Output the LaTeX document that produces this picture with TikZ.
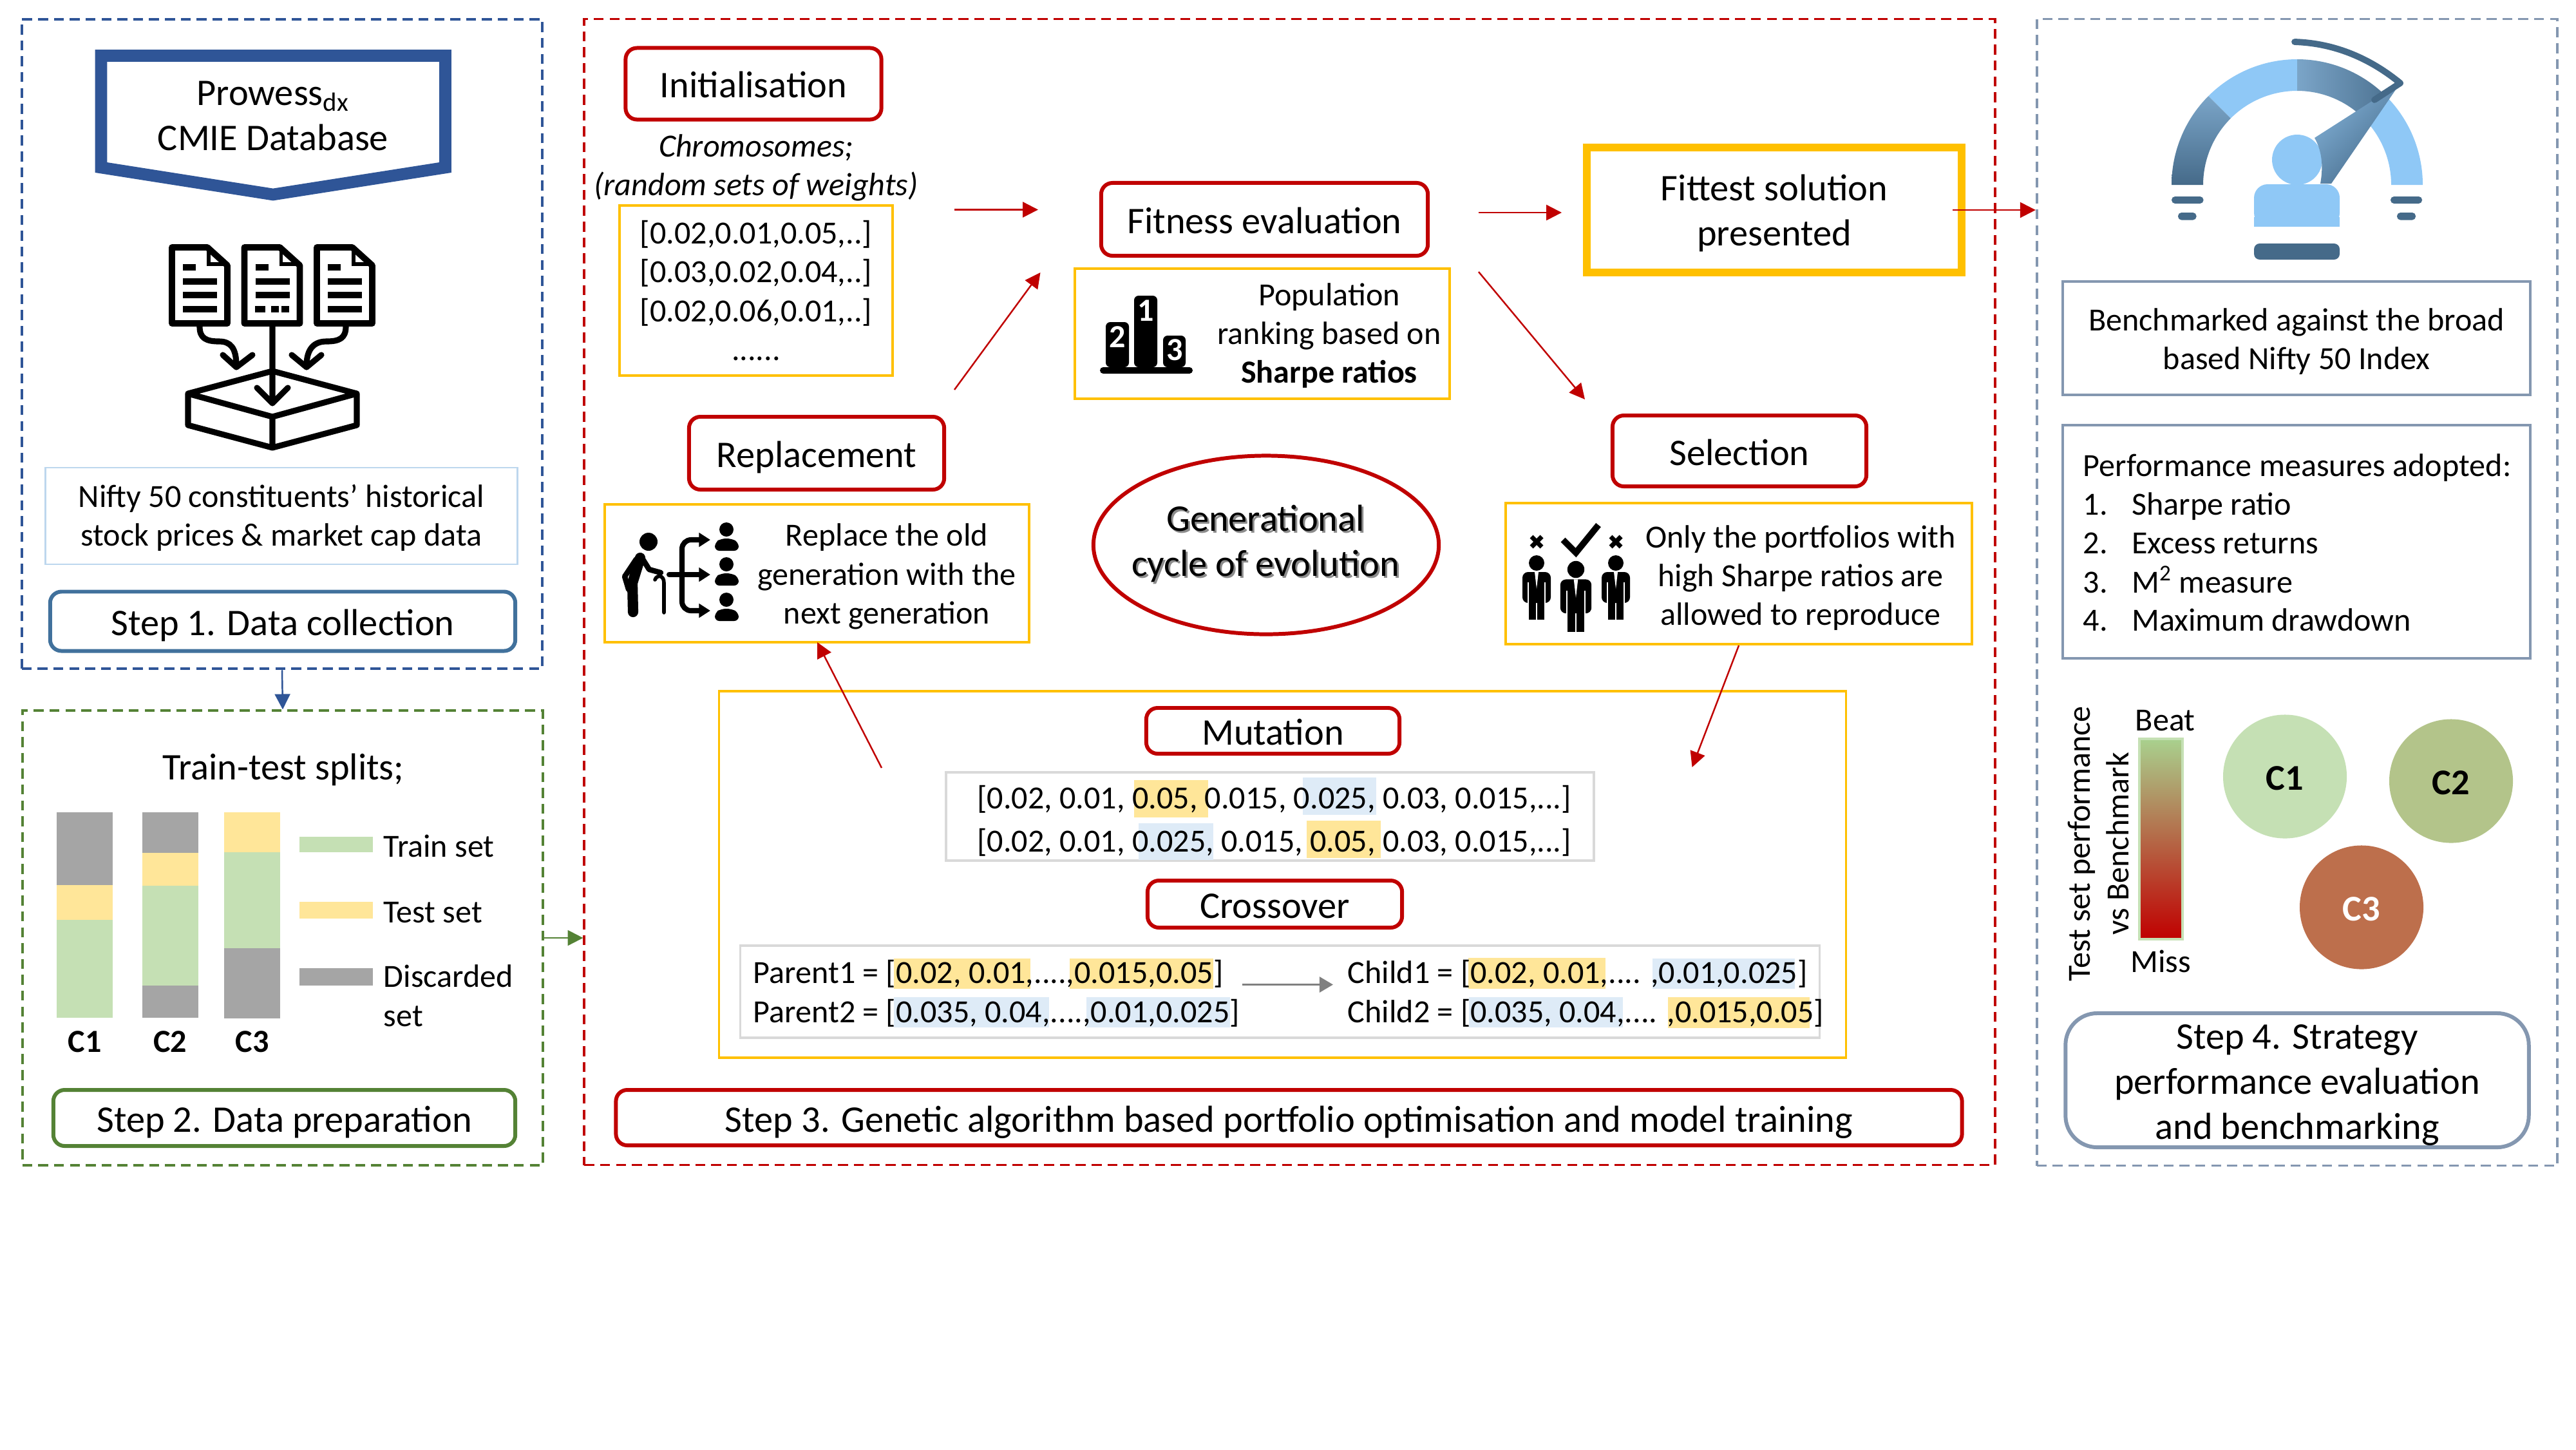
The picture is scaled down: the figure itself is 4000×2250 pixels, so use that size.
\documentclass[tikz,border=0pt]{standalone}
\usepackage{fontspec}
\setmainfont{Carlito}
\usetikzlibrary{arrows.meta,shapes.geometric}

\definecolor{stepred}{HTML}{C00000}
\definecolor{stepblue}{HTML}{2F5597}
\definecolor{steelblue}{HTML}{41719C}
\definecolor{stepgreen}{HTML}{548235}
\definecolor{slate}{HTML}{8497B0}
\definecolor{gold}{HTML}{FFC000}
\definecolor{paleblue}{HTML}{BDD7EE}
\definecolor{boxgrey}{HTML}{D9D9D9}
\definecolor{trainc}{HTML}{C5E0B4}
\definecolor{testc}{HTML}{FFE699}
\definecolor{discardc}{HTML}{A5A5A5}
\definecolor{markblue}{HTML}{DEEBF7}
\definecolor{gaugelight}{HTML}{8FC8F6}
\definecolor{gaugemid}{HTML}{7BA5C8}
\definecolor{gaugedark}{HTML}{456A89}
\definecolor{bartop}{HTML}{A9D18E}
\definecolor{barmid}{HTML}{B5936A}
\definecolor{circletwo}{HTML}{B3C48A}
\definecolor{circlethree}{HTML}{BD6F4C}

\tikzset{
  panel/.style={draw,line width=1.1pt,dash pattern=on 4.4pt off 2.6pt},
  stepbox/.style={draw,line width=1.7pt,rounded corners=5pt,align=center,inner sep=0pt,font=\fontsize{16.6}{19.8}\selectfont},
  oneline/.style={text height=15.5pt,text depth=3pt},
  goldbox/.style={draw=gold,line width=1.1pt,align=center,inner sep=0pt,font=\fontsize{14.25}{17.1}\selectfont},
  greybox/.style={draw=boxgrey,line width=1.1pt},
  slatebox/.style={draw=slate,line width=1.1pt},
  bodytext/.style={align=center,inner sep=0pt,font=\fontsize{14.25}{17.1}\selectfont},
  largetext/.style={align=center,inner sep=0pt,font=\fontsize{16.6}{19.9}\selectfont},
  legendtext/.style={anchor=base west,inner sep=0pt,font=\fontsize{14.25}{17}\selectfont},
  boldlabel/.style={inner sep=0pt,font=\fontsize{14.25}{17}\selectfont\bfseries},
  circlelabel/.style={circle,minimum size=1.92cm,inner sep=0pt,font=\fontsize{16}{19}\selectfont\bfseries},
  flowarrow/.style={draw=stepred,line width=0.7pt,-{Triangle[length=6.8pt,width=6.8pt]}},
  iconline/.style={line width=2.6pt,line cap=round,line join=round},
}

\begin{document}
\begin{tikzpicture}[x=0.01cm,y=-0.01cm]

\useasboundingbox (0,0) rectangle (4000,2250);

% Dashed panels
\node[panel,draw=stepblue,minimum width=8.08cm,minimum height=10.08cm] (panelOne) at (438,534) {};
\node[panel,draw=stepgreen,minimum width=8.08cm,minimum height=7.05cm] (panelTwo) at (439,1456) {};
\node[panel,draw=stepred,minimum width=21.89cm,minimum height=17.78cm] (panelThree) at (2002.5,919) {};
\node[panel,draw=slate,minimum width=8.08cm,minimum height=17.79cm] (panelFour) at (3567,919.5) {};

% Step 1
\draw[stepblue,line width=5.3pt,miter limit=10]
(157,86.5) -- (691.5,86.5) -- (691.5,260) -- (424,302) -- (157,260) -- cycle;
\node[largetext] (prowess) at (424,180) {Prowess\textsubscript{dx}\\CMIE Database};

% Documents
\foreach \docx in {0,112.5,225}{
\begin{scope}[xshift=\docx*0.01cm]
\draw[iconline,line width=2.8pt] (267,384) -- (322,384) -- (353,412) -- (353,502) -- (267,502) -- cycle;
\draw[line width=1.6pt] (324,384) -- (324,410) -- (352,410);
\draw[line width=2.8pt] (284,415) -- (304,415);
\draw[line width=2.8pt] (284,437) -- (337,437);
\draw[line width=2.8pt] (284,458) -- (337,458);
\end{scope}
}
\draw[line width=2.8pt] (284,480) -- (337,480);
\draw[line width=2.8pt] (509,480) -- (562,480);
\draw[line width=2.8pt] (396,480) -- (412,480) (421,480) -- (433,480) (437,480) -- (449,480);

% Tray
\draw[iconline]
(292,611) -- (423,576) -- (554,611) -- (423,647) -- cycle
(292,611) -- (292,660) -- (423,695) -- (554,660) -- (554,611)
(423,647) -- (423,695);
\draw[iconline] (423,507) -- (423,626) (399,602) -- (423,626) -- (447,602);
\draw[iconline] (310,507) .. controls (310,525) and (320,530) .. (340,530) .. controls (358,530) and (367,540) .. (367,568);
\draw[iconline] (346,551) -- (367,570) -- (392,551);
\draw[iconline] (537,507) .. controls (537,525) and (527,530) .. (507,530) .. controls (489,530) and (476,540) .. (476,568);
\draw[iconline] (453,551) -- (476,570) -- (499,551);

\node[draw=paleblue,line width=0.8pt,minimum width=7.32cm,minimum height=1.50cm] (nifty) at (437,801) {};
\node[bodytext] (niftyText) at (437,804) {Nifty 50 constituents’ historical\\stock prices \& market cap data};
\node[stepbox,oneline,draw=steelblue,minimum width=7.22cm,minimum height=0.92cm] (stepOne) at (439,964.5) {Step 1. Data collection};

% Step 2
\node[largetext] (splits) at (440,1195) {Train-test splits;};

\fill[discardc] (88,1261) rectangle (175,1374);
\fill[testc] (88,1374) rectangle (175,1428);
\fill[trainc] (88,1428) rectangle (175,1580);

\fill[discardc] (221,1261) rectangle (308,1324);
\fill[testc] (221,1324) rectangle (308,1375);
\fill[trainc] (221,1375) rectangle (308,1530);
\fill[discardc] (221,1530) rectangle (308,1580);

\fill[testc] (348,1261) rectangle (435,1323);
\fill[trainc] (348,1323) rectangle (435,1472);
\fill[discardc] (348,1472) rectangle (435,1581);

\node[boldlabel] (barOne) at (131.5,1617) {C1};
\node[boldlabel] (barTwo) at (264,1617) {C2};
\node[boldlabel] (barThree) at (391.5,1617) {C3};

\fill[trainc] (465,1299) rectangle (579,1323);
\fill[testc] (465,1400) rectangle (579,1426);
\fill[discardc] (465,1503) rectangle (579,1530);

\node[legendtext] (trainLabel) at (595,1330) {Train set};
\node[legendtext] (testLabel) at (595,1432) {Test set};
\node[legendtext] (discardLabel) at (595,1532) {Discarded};
\node[legendtext] (discardLabelTwo) at (595,1593) {set};

\node[stepbox,oneline,draw=stepgreen,minimum width=7.17cm,minimum height=0.87cm] (stepTwo) at (441.5,1735.5) {Step 2. Data preparation};

% Step 3
\node[stepbox,oneline,draw=stepred,minimum width=3.97cm,minimum height=1.11cm] (init) at (1170,130) {Initialisation};
\node[bodytext] (chromo) at (1174,260) {\itshape Chromosomes;\\\itshape (random sets of weights)};
\node[goldbox,minimum width=4.24cm,minimum height=2.64cm] (weights) at (1174,451)
{{[0.02,0.01,0.05,..]}\\{[0.03,0.02,0.04,..]}\\{[0.02,0.06,0.01,..]}\\......};

\node[stepbox,oneline,draw=stepred,minimum width=5.07cm,minimum height=1.13cm] (fitness) at (1963.5,340.5) {Fitness evaluation};
\node[goldbox,minimum width=5.82cm,minimum height=2.02cm] (population) at (1960,518) {};
\node[bodytext] (populationText) at (2064,521) {Population\\ranking based on\\\textbf{Sharpe ratios}};

% Podium
\fill[rounded corners=2pt] (1761,570) -- (1761,459) -- (1797,459) -- (1797,570) -- cycle;
\fill[rounded corners=2pt] (1717,570) -- (1717,500) -- (1753,500) -- (1753,570) -- cycle;
\fill[rounded corners=2pt] (1806,570) -- (1806,521) -- (1841,521) -- (1841,570) -- cycle;
\fill[rounded corners=1.4pt] (1708,570) rectangle (1852,580);
\node[boldlabel,text=white] (rankOne) at (1779,482) {1};
\node[boldlabel,text=white] (rankTwo) at (1735,523) {2};
\node[boldlabel,text=white] (rankThree) at (1824,543) {3};

\node[draw=gold,line width=3.4pt,minimum width=5.82cm,minimum height=1.94cm] (fittest) at (2755,326) {};
\node[largetext] (fittestText) at (2755,331) {Fittest solution\\presented};

\node[stepbox,oneline,draw=stepred,minimum width=3.96cm,minimum height=1.13cm] (replacement) at (1268,703.5) {Replacement};
\node[goldbox,minimum width=6.59cm,minimum height=2.14cm] (replaceInfo) at (1268.5,890) {};
\node[bodytext] (replaceText) at (1377,895) {Replace the old\\generation with the\\next generation};

% Old and new generation
\fill (1007,841) circle (14);
\draw[line width=4.6pt,line cap=round,line join=round] (994,866) -- (982,905) -- (983,950);
\draw[line width=2.4pt,line cap=round,line join=round] (988,868) -- (970,895) -- (976,915);
\draw[line width=2.4pt,line cap=round,line join=round] (998,868) -- (1008,884) -- (1026,889);
\draw[line width=1.6pt,line cap=round] (1017,900) .. controls (1020,892) and (1031,892) .. (1031,905) -- (1031,951);
\draw[iconline,line width=2.3pt,-{Triangle[length=5pt,width=6pt]}] (1039,892) -- (1103,892);
\draw[iconline,line width=2.3pt,rounded corners=4pt,-{Triangle[length=5pt,width=6pt]}] (1059,892) -- (1059,838) -- (1103,838);
\draw[iconline,line width=2.3pt,rounded corners=4pt,-{Triangle[length=5pt,width=6pt]}] (1059,892) -- (1059,948) -- (1103,948);
\foreach \heady in {822,876,931}{
\fill (1128,\heady) circle (11);
\fill[rounded corners=2pt] (1110,\heady+33) -- (1110,\heady+20) -- (1120,\heady+14) -- (1136,\heady+14) -- (1147,\heady+20) -- (1147,\heady+33) -- cycle;
}

\node[ellipse,draw=stepred,line width=1.7pt,minimum width=5.36cm,minimum height=2.77cm,inner sep=0pt] (cycleShape) at (1966,846) {};
\node[largetext,text=black!45] (cycleShadow) at (1968,847) {Generational\\cycle of evolution};
\node[largetext] (cycleText) at (1965,844) {Generational\\cycle of evolution};

\node[stepbox,oneline,draw=stepred,minimum width=3.94cm,minimum height=1.10cm] (selection) at (2701,700) {Selection};
\node[goldbox,minimum width=7.24cm,minimum height=2.19cm] (selectInfo) at (2700,890.5) {};
\node[bodytext] (selectText) at (2796,897) {Only the portfolios with\\high Sharpe ratios are\\allowed to reproduce};

% Portfolios
\foreach \persx/\persy/\perss in {2386/874/1,2447/884/1.1,2509/874/1}{
\begin{scope}[shift={(\persx,\persy)},scale=\perss]
\fill (0,0) circle (12);
\fill[rounded corners=2.5pt] (-22,14) rectangle (22,62);
\fill (-12,50) rectangle (-1,88);
\fill (1,50) rectangle (12,88);
\draw[white,line width=0.6pt] (-13,30) -- (-13,64) (13,30) -- (13,64);
\fill[white] (-3,14) -- (3,14) -- (0,40) -- cycle;
\end{scope}
}
\draw[line width=2.8pt] (2427,838) -- (2447,858) -- (2482,815);
\draw[line width=2pt] (2378,833) -- (2394,849) (2378,849) -- (2394,833);
\draw[line width=2pt] (2501,833) -- (2517,849) (2501,849) -- (2517,833);

\node[goldbox,minimum width=17.49cm,minimum height=5.69cm] (ioBox) at (1991.5,1357.5) {};
\node[stepbox,oneline,draw=stepred,minimum width=3.93cm,minimum height=0.71cm] (mutation) at (1976.5,1134.5) {Mutation};
\node[greybox,minimum width=10.06cm,minimum height=1.37cm] (mutationBox) at (1972,1267.5) {};

% Swapped genes
\fill[testc] (1761,1211) rectangle (1876,1269);
\fill[markblue] (2023,1207) rectangle (2137,1265);
\fill[markblue] (1768,1278) rectangle (1884,1335);
\fill[testc] (2029,1274) rectangle (2144,1332);
\node[bodytext,anchor=base] (mutationOne) at (1978.5,1255) {[0.02, 0.01, 0.05, 0.015, 0.025, 0.03, 0.015,...]};
\node[bodytext,anchor=base] (mutationTwo) at (1978.5,1322) {[0.02, 0.01, 0.025, 0.015, 0.05, 0.03, 0.015,...]};

\node[stepbox,oneline,draw=stepred,minimum width=3.95cm,minimum height=0.73cm] (crossover) at (1979.5,1403.5) {Crossover};
\node[greybox,minimum width=16.75cm,minimum height=1.43cm] (crossoverBox) at (1987.5,1539.5) {};

% Parent and child genes
\fill[testc] (1388,1488) rectangle (1600,1535);
\fill[testc] (1661,1488) rectangle (1884,1535);
\fill[markblue] (1388,1548) rectangle (1629,1595);
\fill[markblue] (1687,1548) rectangle (1910,1595);
\fill[testc] (2280,1487) rectangle (2493,1535);
\fill[markblue] (2566,1488) rectangle (2787,1535);
\fill[markblue] (2281,1548) rectangle (2520,1595);
\fill[testc] (2590,1548) rectangle (2810,1596);
\node[legendtext] (parentOne) at (1169,1526) {Parent1 = [0.02, 0.01,....,0.015,0.05]};
\node[legendtext] (parentTwo) at (1169,1587) {Parent2 = [0.035, 0.04,....,0.01,0.025]};
\node[legendtext] (childOne) at (2092,1526) {Child1 = [0.02, 0.01,.... ,0.01,0.025]};
\node[legendtext] (childTwo) at (2092,1587) {Child2 = [0.035, 0.04,.... ,0.015,0.05]};

\node[stepbox,oneline,draw=stepred,minimum width=20.89cm,minimum height=0.86cm] (stepThree) at (2001.5,1735) {Step 3. Genetic algorithm based portfolio optimisation and model training};

% Step 4 gauge
\begin{scope}[shift={(3567,287)},y=0.01cm]
\fill[gaugelight] (0:195) arc (0:43:195) -- (43:146) arc (43:0:146) -- cycle;
\fill[gaugelight] (90:195) arc (90:135:195) -- (135:146) arc (135:90:146) -- cycle;
\shade[left color=gaugemid,right color=gaugedark!85!gaugemid] (43:195) arc (43:90:195) -- (90:146) arc (90:43:146) -- cycle;
\shade[top color=gaugemid,bottom color=gaugedark] (135:195) arc (135:180:195) -- (180:146) arc (180:135:146) -- cycle;
\fill[gaugelight] (0,39) circle (39);
\fill[gaugelight,rounded corners=6pt] (-67,-64.5) rectangle (66,1);
\fill[gaugelight] (-67,-64.5) rectangle (66,-50);
\shade[left color=gaugemid!70!gaugelight,right color=gaugedark,shading angle=45] (160,158) -- (27,73) .. controls (40,50) and (40,25) .. (36,2) -- (53,2) -- cycle;
\draw[gaugedark,line width=2.8pt,line cap=round,line join=round] (-4,222) .. controls (60,220) and (115,195) .. (160,158) -- (120,132);
\end{scope}
\fill[gaugedark,rounded corners=2.5pt] (3500,378) rectangle (3633,403);
\fill[gaugedark,rounded corners=1.5pt] (3372,305) rectangle (3421.5,316);
\fill[gaugedark,rounded corners=1.5pt] (3382,330) rectangle (3410.5,341.5);
\fill[gaugedark,rounded corners=1.5pt] (3712,305) rectangle (3761,316);
\fill[gaugedark,rounded corners=1.5pt] (3722,330) rectangle (3751,341.5);

\node[slatebox,minimum width=7.26cm,minimum height=1.76cm] (benchmark) at (3566,525) {};
\node[bodytext] (benchmarkText) at (3566,530) {Benchmarked against the broad\\based Nifty 50 Index};
\node[slatebox,minimum width=7.26cm,minimum height=3.62cm] (measures) at (3566,841) {};
\node[legendtext] (measureTitle) at (3234,739) {Performance measures adopted:};
\foreach \num/\measure/\measy in {1/Sharpe ratio/799,2/Excess returns/859.5,3/{M\textsuperscript{2} measure}/920,4/Maximum drawdown/979}{
\node[legendtext] (number\num) at (3234,\measy) {\num.};
\node[legendtext] (measure\num) at (3309.5,\measy) {\measure};
}

\node[bodytext,rotate=90] (perfOne) at (3232,1310) {Test set performance};
\node[bodytext,rotate=90] (perfTwo) at (3288,1310) {vs Benchmark};
\shade[top color=bartop,middle color=barmid,bottom color=stepred] (3322,1147) rectangle (3389,1458);
\draw[trainc,line width=1.1pt] (3322,1147) rectangle (3389,1458);
\node[bodytext] (beat) at (3362,1119) {Beat};
\node[bodytext] (miss) at (3355,1492) {Miss};

\node[circlelabel,fill=trainc,text height=12pt] (circleOne) at (3548,1205.5) {C1};
\node[circlelabel,fill=circletwo,text height=12pt] (circleTwo) at (3806,1212.5) {C2};
\node[circlelabel,fill=circlethree,text=white,text height=12pt] (circleThree) at (3667,1408.5) {C3};

\node[stepbox,draw=slate,rounded corners=14pt,minimum width=7.19cm,minimum height=2.08cm] (stepFour) at (3567,1677) {};
\node[largetext] (stepFourText) at (3567,1685) {Step 4. Strategy\\performance evaluation\\and benchmarking};

% Arrows
\draw[draw=stepblue,line width=0.7pt,-{Triangle[length=6.8pt,width=6.8pt]}] (panelOne.south) -- (panelTwo.north);
\draw[draw=stepgreen,line width=0.7pt,-{Triangle[length=6.8pt,width=6.8pt]}] (panelTwo.east) -- (panelThree.west |- panelTwo.east);

\coordinate (initOut) at (1482,325.5);
\coordinate (fitnessIn) at (1612,325.5);
\coordinate (replaceOut) at (1482,605);
\coordinate (fitnessInTwo) at (1615.5,423);
\coordinate (fitnessOut) at (2296,330);
\coordinate (fittestIn) at (2425,330);
\coordinate (fitnessDown) at (2296,422);
\coordinate (selectIn) at (2461,620);
\coordinate (selectOut) at (2700,1002);
\coordinate (ioIn) at (2627.5,1191);
\coordinate (ioOut) at (1369,1192);
\coordinate (replaceIn) at (1269,997);
\coordinate (fittestOut) at (3032,326);

\draw[flowarrow] (initOut) -- (fitnessIn);
\draw[flowarrow] (replaceOut) -- (fitnessInTwo);
\draw[flowarrow] (fitnessOut) -- (fittestIn);
\draw[flowarrow] (fitnessDown) -- (selectIn);
\draw[flowarrow] (selectOut) -- (ioIn);
\draw[flowarrow] (ioOut) -- (replaceIn);
\draw[flowarrow] (fittestOut) -- (panelFour.west |- fittestOut);

\coordinate (swapOut) at (1928.5,1528.5);
\coordinate (swapIn) at (2070,1528.5);
\draw[draw=gray,line width=1pt,-{Triangle[length=6pt,width=6.8pt]}] (swapOut) -- (swapIn);

\end{tikzpicture}
\end{document}
